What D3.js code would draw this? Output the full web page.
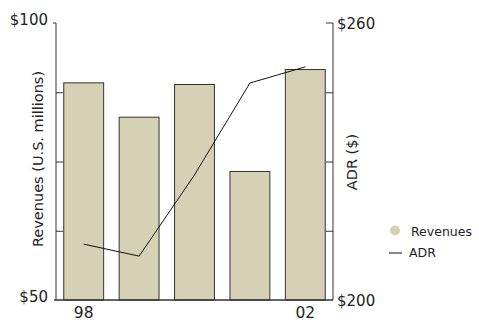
<!DOCTYPE html>
<html><head><meta charset="utf-8">
<script src="https://cdn.jsdelivr.net/npm/d3@7"></script>
<style>body{margin:0;background:#fff}text{font-family:"DejaVu Sans",sans-serif;fill:#222}</style>
</head><body><svg id="c" width="479" height="320"></svg>
<script>
const years = ["98","99","00","01","02"];
const revenues = [89.2, 83.0, 88.9, 73.2, 91.6];
const adr = [212.1, 209.5, 227.1, 247.0, 250.5];
const xTickLabels = ["98","02"];
const leftTicks = [50, 100];
const rightTicks = [200, 260];

const svg = d3.select("#c");
const m = {l:56, r:333, t:23, b:300};
const x = d3.scaleBand().domain(years).range([m.l, m.r]).paddingInner(0.28).paddingOuter(0.14);
const yL = d3.scaleLinear().domain([50,100]).range([m.b, m.t]);
const yR = d3.scaleLinear().domain([200,260]).range([m.b, m.t]);

svg.selectAll("rect.bar").data(revenues).join("rect")
  .attr("x",(d,i)=>x(years[i])).attr("y",d=>yL(d))
  .attr("width",x.bandwidth()).attr("height",d=>yL(50)-yL(d))
  .attr("fill","#d6d1b4").attr("stroke","#333").attr("stroke-width",1);

// left axis
const la = svg.append("g").attr("transform",`translate(${m.l},0)`)
  .call(d3.axisRight(yL).tickValues([62.5,75,87.5]).tickSize(7).tickFormat(""));
la.select(".domain").remove();
la.selectAll("line").attr("stroke","#333");
svg.append("line").attr("x1",m.l).attr("x2",m.l).attr("y1",yL(100)).attr("y2",yL(50)).attr("stroke","#333");
svg.append("line").attr("x1",m.l-3).attr("x2",m.l).attr("y1",yL(100)).attr("y2",yL(100)).attr("stroke","#333");
svg.append("line").attr("x1",m.l-2).attr("x2",m.r).attr("y1",yL(50)).attr("y2",yL(50)).attr("stroke","#333").attr("stroke-width",1.5);
svg.selectAll("text.lt").data(leftTicks).join("text")
  .attr("x",48).attr("y",d=>yL(d)+2).attr("text-anchor","end")
  .attr("font-size",15).text(d=>"$"+d);

// right axis
const ra = svg.append("g").attr("transform",`translate(${m.r},0)`)
  .call(d3.axisLeft(yR).tickValues([215,230,245]).tickSize(7).tickFormat(""));
ra.select(".domain").remove();
ra.selectAll("line").attr("stroke","#333");
svg.append("line").attr("x1",m.r).attr("x2",m.r).attr("y1",yR(260)).attr("y2",yR(200)).attr("stroke","#333");
svg.append("line").attr("x1",m.r-7).attr("x2",m.r).attr("y1",yR(260)).attr("y2",yR(260)).attr("stroke","#333");
svg.selectAll("text.rt").data(rightTicks).join("text")
  .attr("x",337).attr("y",d=>yR(d)+5.5).attr("text-anchor","start")
  .attr("font-size",15).text(d=>"$"+d);

// x labels
svg.selectAll("text.xl").data(xTickLabels).join("text")
  .attr("x",d=>x(d)+x.bandwidth()/2).attr("y",317.5).attr("text-anchor","middle")
  .attr("font-size",15.5).text(d=>d);

// line
const line = d3.line().x((d,i)=>x(years[i])+x.bandwidth()/2).y(d=>yR(d));
svg.append("path").datum(adr).attr("d",line).attr("fill","none").attr("stroke","#111").attr("stroke-width",1);

// axis titles
svg.append("text").attr("transform",`translate(43,159) rotate(-90)`).attr("text-anchor","middle")
  .attr("font-size",14.5).text("Revenues (U.S. millions)");
svg.append("text").attr("transform",`translate(357,162) rotate(-90)`).attr("text-anchor","middle")
  .attr("font-size",14.5).text("ADR ($)");

// legend
svg.append("circle").attr("cx",395).attr("cy",230.5).attr("r",5).attr("fill","#d6d1b4");
svg.append("text").attr("x",411).attr("y",235.5).attr("font-size",12.5).text("Revenues");
svg.append("line").attr("x1",389).attr("x2",402).attr("y1",253).attr("y2",253).attr("stroke","#111");
svg.append("text").attr("x",409).attr("y",256.5).attr("font-size",12.5).text("ADR");
</script></body></html>
